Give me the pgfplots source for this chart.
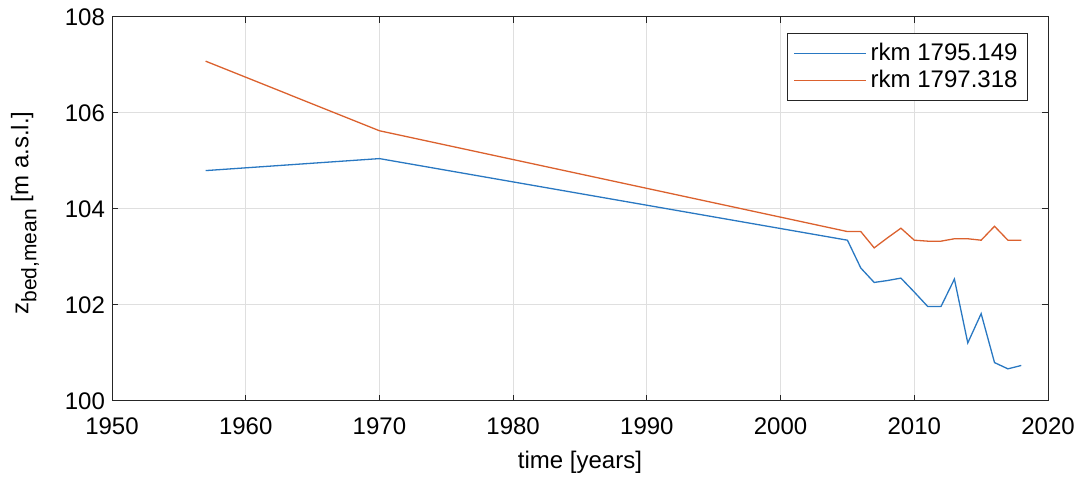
\documentclass[border=0pt]{standalone}
\usepackage{fontspec}
\setmainfont{Liberation Sans}
\usepackage{pgfplots}
\pgfplotsset{compat=1.18}
\definecolor{mblue}{rgb}{0.16,0.47,0.76}
\definecolor{morange}{rgb}{0.86,0.38,0.18}
\definecolor{axgray}{gray}{0.15}
\begin{document}
\begin{tikzpicture}
\begin{axis}[
  name=ax,
  width=468pt, height=192pt, scale only axis,
  xmin=1950, xmax=2020, ymin=100, ymax=108,
  xtick={1950,1960,...,2020}, ytick={100,102,...,108},
  /pgf/number format/assume math mode=true,
  xticklabel style={/pgf/number format/1000 sep={}},
  font=\fontsize{12}{14}\selectfont,
  tick align=inside, major tick length=3pt,
  axis line style={axgray, line width=0.5pt},
  every tick/.style={axgray, line width=0.5pt},
  grid=major, grid style={gray!25, line width=0.5pt},
  xticklabel style={yshift=-5pt},
  xlabel={time [years]},
  ylabel={z\raisebox{-4pt}{\fontsize{10.5}{12}\selectfont bed,mean} [m a.s.l.]},
  xlabel style={yshift=-1pt},
  ylabel style={yshift=6pt, xshift=-2pt},
  legend style={at={(rel axis cs:1,1)}, anchor=north east, xshift=-10pt, yshift=-8pt,
    draw=axgray, line width=0.5pt, font=\fontsize{12}{14}\selectfont,
    row sep=-1pt, inner xsep=3pt, inner ysep=3pt},
  legend cell align=left,
  legend image code/.code={\draw[#1, line width=0.5pt] (0pt,0pt) -- (36pt,0pt);},
]
\addplot[mblue, line width=0.65pt] coordinates {
(1957,104.80) (1970,105.05) (2005,103.35) (2006,102.77) (2007,102.47)
(2008,102.51) (2009,102.56) (2010,102.27) (2011,101.97) (2012,101.97)
(2013,102.54) (2014,101.21) (2015,101.82) (2016,100.80) (2017,100.67) (2018,100.74)};
\addlegendentry{rkm 1795.149}
\addplot[morange, line width=0.65pt] coordinates {
(1957,107.08) (1970,105.63) (2005,103.53) (2006,103.53) (2007,103.19)
(2008,103.40) (2009,103.60) (2010,103.35) (2011,103.33) (2012,103.33)
(2013,103.38) (2014,103.38) (2015,103.35) (2016,103.64) (2017,103.35) (2018,103.35)};
\addlegendentry{rkm 1797.318}
\end{axis}
\pgfresetboundingbox
\useasboundingbox ([xshift=-56pt,yshift=-38.5pt]ax.south west) rectangle ([xshift=17pt,yshift=8.5pt]ax.north east);
\end{tikzpicture}
\end{document}
